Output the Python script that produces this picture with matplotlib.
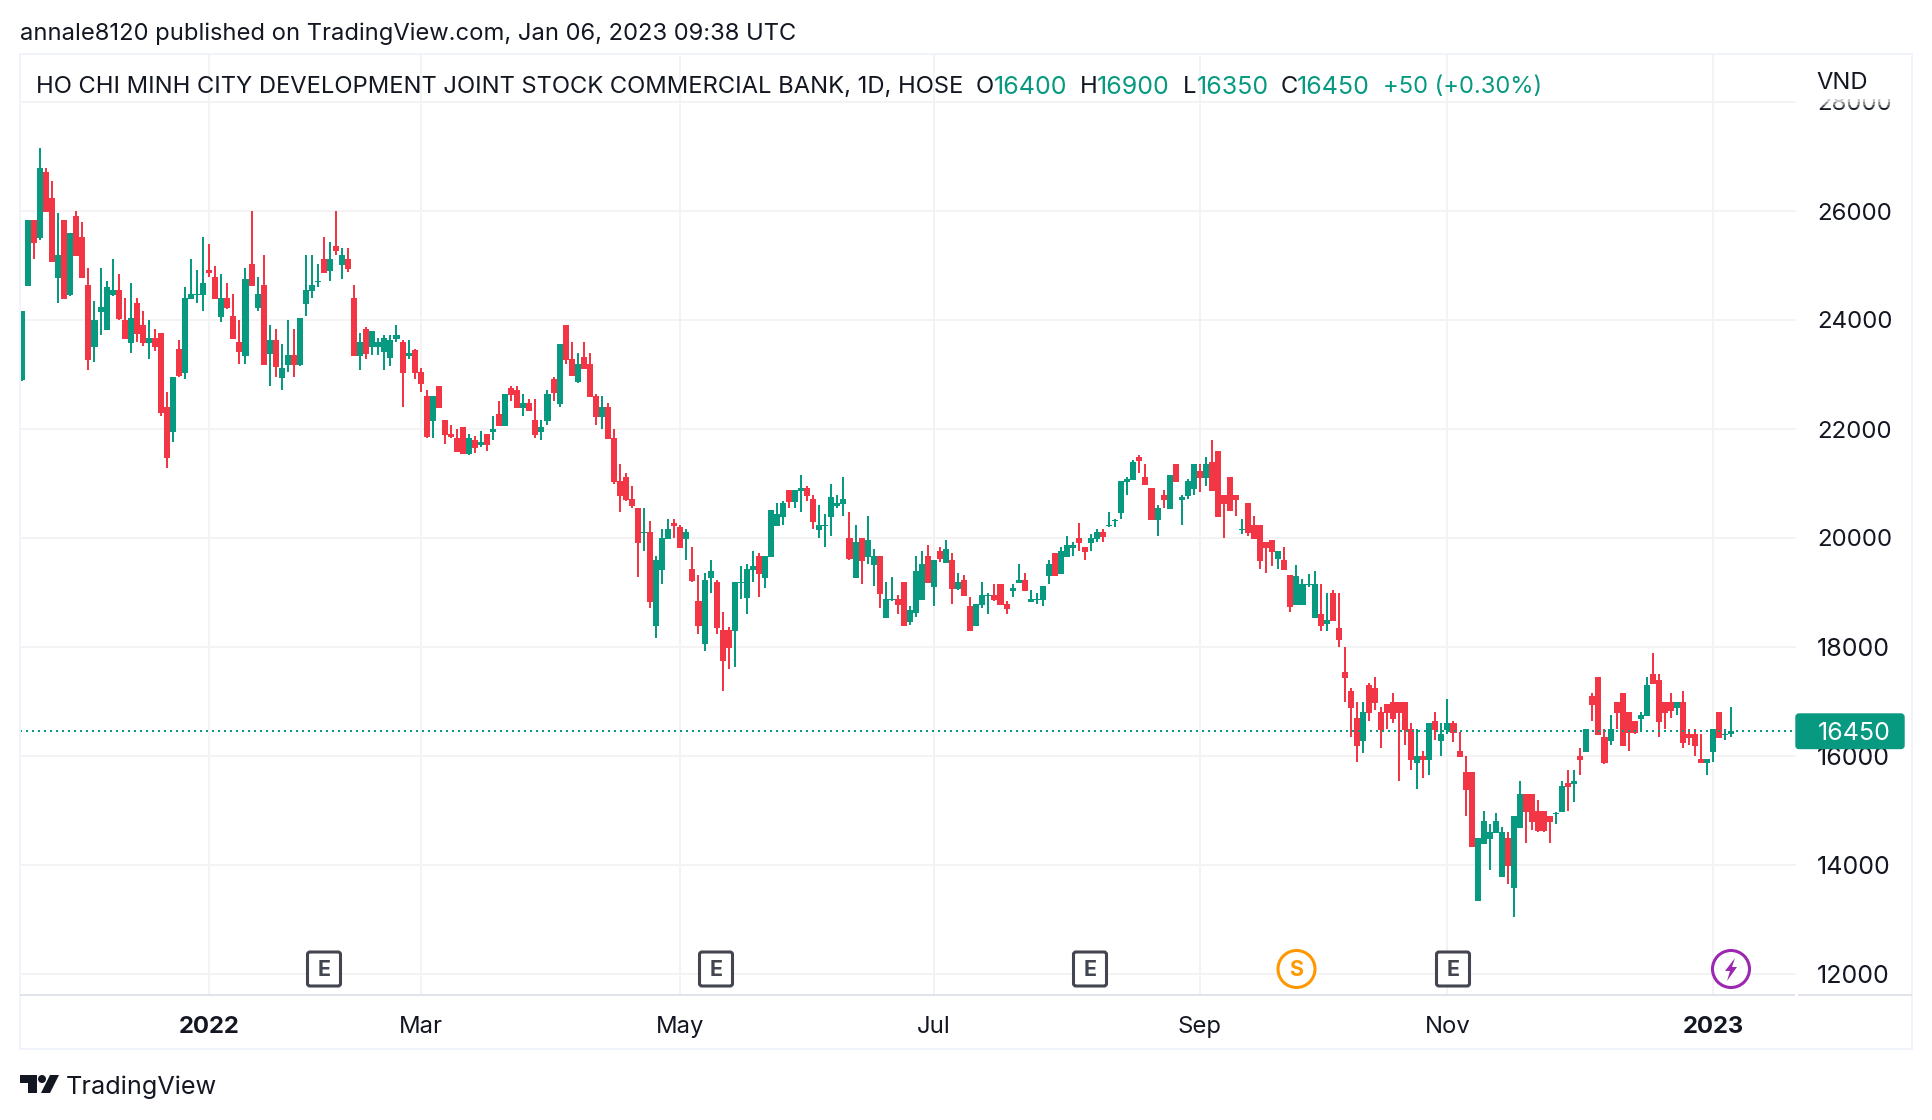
import matplotlib
matplotlib.use("Agg")
import matplotlib.pyplot as plt
from matplotlib.patches import Rectangle, FancyBboxPatch, Circle, Polygon

W, H = 1932, 1120
FONT = ["Inter", "Liberation Sans", "DejaVu Sans"]
plt.rcParams["font.family"] = FONT

GREEN = "#089981"
RED = "#F23645"
TEXT = "#131722"
GRID = "#F3F3F3"
BORDER = "#F0F3FA"
AXLINE = "#E0E3EB"

opens = [
 22900,24630,25840,25510,26720,26240,24770,25840,24460,25910,
 25520,24640,23510,24150,23820,24460,24550,24000,23580,24310,
 23910,23580,23670,23760,22400,21950,23470,23030,24390,24460,
 24460,24920,24790,24060,24400,24070,23600,23340,25030,24220,
 24640,23380,23630,22940,23170,23360,23170,24290,24530,24700,
 25120,24900,25360,25010,25120,24400,23340,23840,23510,23510,
 23410,23300,23650,23600,23340,23450,23050,22610,22150,22790,
 22170,21910,21840,22040,21540,21800,21710,21910,21950,22280,
 22060,22750,22720,22390,22480,22170,21950,22150,22920,22460,
 23910,23280,22860,23320,23190,22610,22220,22400,21840,21050,
 21120,20720,20550,20090,20110,18390,19410,19980,20280,20200,
 19980,19430,18840,18060,19270,19190,18310,18310,18290,19180,
 18900,19410,19670,19270,19650,20220,20390,20880,20660,20860,
 20920,20720,20150,20220,20390,20590,20620,20000,19270,20000,
 19650,19510,19670,18530,18860,18880,19190,18460,18620,18860,
 19670,19100,19760,19540,19600,19060,19230,18750,18390,18770,
 18940,18950,19160,18790,19030,19170,19230,18830,18860,18860,
 19300,19730,19340,19650,19820,20000,19840,19910,19980,20110,
 20220,20310,20460,21030,21060,21490,21120,20920,20330,20790,
 20530,21360,20700,20770,20900,21230,21100,21390,21600,20790,
 21120,20790,20150,20640,20240,20240,19930,19960,19620,19600,
 19320,18770,18770,19140,18530,18610,18420,18990,18350,17540,
 17190,16700,16280,17300,17250,16810,16950,16990,16990,16990,
 16500,15870,16000,15930,16640,16280,16480,16610,16090,15710,
 15710,13340,14390,14480,14590,13780,14500,13580,14680,15300,
 15300,14990,14990,14900,14940,14970,15510,15490,16000,16070,
 17100,17450,16350,16280,16990,17160,16810,16640,16680,16730,
 17510,17400,16990,16990,16880,16990,16400,16400,15950,15870,
 16070,16810,16390,16400,
]
closes = [
 24170,25840,25410,26790,25990,25060,25190,24390,25600,25170,
 24770,23270,24000,24240,24610,24550,24020,23650,24040,23740,
 23580,23670,23510,22290,21470,22950,22970,24400,24480,24480,
 24680,24860,24390,24400,24220,23650,23410,24750,24620,24480,
 23170,23630,23140,23120,23360,23170,24040,24550,24640,24720,
 24860,25120,25270,25190,24940,23340,23600,23380,23800,23600,
 23670,23630,23730,23030,23400,23030,22830,21850,22610,22390,
 21890,21850,21580,21540,21840,21650,21760,21710,22000,22060,
 22640,22620,22390,22480,22330,21890,22040,22640,22660,23560,
 23270,22970,23190,23100,22590,22220,22400,21820,21030,20770,
 20700,20590,19910,20110,18830,19600,20000,20170,20220,19820,
 20110,19210,18390,19230,19400,18350,17740,17980,19190,19190,
 19430,19490,19340,19670,20510,20440,20640,20660,20880,20920,
 20770,20290,20240,20240,20750,20640,20720,19620,19930,19580,
 19960,19670,18970,18880,18880,18770,18390,18680,19400,19520,
 19170,19600,19620,19800,19060,19190,18940,18290,18790,18950,
 18950,18860,18770,18700,19080,19230,19030,18880,18880,19120,
 19520,19300,19760,19870,19870,19910,19740,20000,20110,20020,
 20230,20330,21050,21080,21390,21410,20970,20330,20550,20700,
 21160,21030,20750,21050,21360,21100,21360,20860,20390,20620,
 20500,20700,20170,20090,19980,19580,19820,19740,19760,19410,
 18730,19300,19160,19160,19160,18390,18500,18480,18130,17430,
 16880,16180,16810,16790,16970,16480,16790,16680,16790,16480,
 15930,16000,15930,16610,16480,16400,16610,16420,15980,15380,
 14330,14500,14810,14610,14810,14610,13980,14900,15300,14970,
 14790,14620,14620,14790,14950,15450,15430,15540,15930,16500,
 16940,16390,15870,16500,16790,16180,16420,16420,16750,17300,
 17320,16620,16790,16830,16990,16240,16330,16180,15870,15950,
 16500,16330,16400,16450,
]
highs = [
 24170,25840,25840,27160,26790,26550,25960,25840,25600,26000,
 25800,24950,24350,24950,24720,25120,24840,24400,24680,24400,
 24170,24000,23840,23760,22680,22950,23630,24610,25120,24920,
 25520,25400,24990,24840,24680,24480,24000,24950,26000,24790,
 25190,23910,23840,23560,24000,23840,24040,25190,25190,25030,
 25520,25430,26000,25320,25320,24640,23760,23870,23800,23670,
 23730,23730,23910,23630,23630,23470,23120,22720,22610,22790,
 22170,22070,22000,22040,21910,21870,21960,21910,22240,22510,
 22640,22790,22790,22640,22550,22550,22170,22720,22950,23560,
 23910,23600,23400,23600,23400,22640,22610,22480,22000,21360,
 21190,20950,20550,20550,20310,19670,20170,20350,20350,20240,
 20170,19840,19320,19360,19600,19230,18640,18370,19190,19490,
 19520,19760,19730,19670,20510,20640,20680,20880,20880,21160,
 20950,20790,20610,20440,20990,20790,21120,20480,20240,20000,
 20400,19800,19670,19190,19280,18950,19190,18750,19670,19760,
 19870,19600,19840,19960,19730,19360,19320,18920,18790,19190,
 18990,19160,19160,18840,19160,19520,19360,19050,18990,19120,
 19600,19730,19840,20040,19930,20280,19840,20070,20170,20170,
 20480,20350,21050,21120,21430,21520,21360,20920,20610,20880,
 21160,21360,20790,21080,21360,21360,21490,21800,21600,20790,
 21120,20790,20350,20640,20400,20240,19930,19960,19760,19840,
 19320,19510,19250,19340,19400,19160,18990,19050,18990,18000,
 17250,16990,16990,17340,17450,16900,16950,17160,16990,16990,
 16610,16500,16090,16610,16810,16610,17050,16640,16440,16000,
 15710,14500,14990,14750,14950,14700,14610,14900,15540,15300,
 15300,15190,14990,14900,14970,15540,15740,15740,16150,16500,
 17160,17450,16500,16750,16990,17160,16810,16640,16810,17450,
 17890,17510,16990,17160,16990,17190,16500,16500,16400,15950,
 16500,16810,16500,16900,
]
lows = [
 22880,24630,25120,25470,25990,25060,24310,24390,24440,25170,
 24770,23080,23230,23730,23820,24440,24000,23650,23400,23600,
 23520,23280,23430,22240,21290,21760,22950,22920,24390,24310,
 24170,24790,24390,23960,24200,23650,23190,23190,24620,24170,
 23170,22790,22950,22720,23050,22950,23160,24070,24400,24610,
 24860,24720,25190,24750,24880,23340,23080,23280,23360,23360,
 23080,23160,23600,22400,23280,22920,22680,21840,21840,22390,
 21730,21840,21580,21540,21520,21560,21670,21600,21800,22060,
 22060,22510,22390,22240,22330,21840,21800,22070,22510,22400,
 23190,22970,22840,23100,22590,22070,22000,21820,20990,20480,
 20680,20550,19290,19760,18720,18170,19160,19980,20000,19820,
 19600,19190,18240,17930,18990,18240,17190,17600,17630,18880,
 18610,19190,18920,19080,19650,20220,20240,20550,20550,20480,
 20680,20170,20000,19840,20040,20550,20400,19600,19270,19160,
 19520,19120,18720,18530,18840,18610,18390,18400,18550,18860,
 19170,18750,19560,19540,18790,19050,18940,18290,18390,18720,
 18610,18840,18770,18610,18920,19170,19030,18830,18790,18750,
 19160,19300,19340,19650,19670,19760,19600,19760,19930,19930,
 20200,20200,20350,20790,21060,21190,20970,20330,20040,20550,
 20530,21030,20240,20720,20790,20840,20950,20860,20390,20000,
 20500,20400,20070,20040,19980,19430,19360,19490,19430,19410,
 18640,18770,18770,19100,18530,18290,18290,18480,18000,16990,
 16350,15890,16060,16640,16840,16150,16500,16610,15540,16200,
 15740,15400,15600,15650,16290,16000,16400,16260,15980,14900,
 14330,13340,14390,13910,14590,13780,13650,13050,14680,14400,
 14640,14610,14610,14400,14750,14970,14990,15160,15650,16070,
 16640,16390,15850,16200,16500,16180,16090,16400,16440,16730,
 17320,16350,16500,16700,16750,16150,16200,16000,15870,15650,
 15890,16330,16290,16350,
]
month_index = [31, 66, 109, 151, 195, 236, 280]
month_labels = ["2022", "Mar", "May", "Jul", "Sep", "Nov", "2023"]
price_ticks = [12000, 14000, 16000, 18000, 20000, 22000, 24000, 26000, 28000]

fig = plt.figure(figsize=(W / 100, H / 100), dpi=100, facecolor="white")

# ---- price pane -------------------------------------------------------
L, R, T, B = 19.5, 1796.0, 54.0, 995.0
ax = fig.add_axes([L / W, 1 - B / H, (R - L) / W, (B - T) / H])
PITCH = 6.04
X0 = 22.0
ax.set_xlim((L - X0) / PITCH, (R - X0) / PITCH)
PX_PER_VND = 0.0545
ax.set_ylim(26000 - (B - 211) / PX_PER_VND, 26000 + (211 - T) / PX_PER_VND)
for s in ax.spines.values():
    s.set_visible(False)
ax.set_axisbelow(True)
ax.set_xticks(month_index)
ax.set_xticklabels(month_labels, fontsize=17.2, color=TEXT)
for lab in ax.get_xticklabels():
    if lab.get_text().isdigit():
        lab.set_fontweight("bold")
ax.tick_params(axis="x", length=0, pad=15)
ax.yaxis.tick_right()
ax.set_yticks(price_ticks)
ax.set_yticklabels([str(p) for p in price_ticks], fontsize=17.3, color=TEXT)
for lab in ax.get_yticklabels():
    if lab.get_text().startswith("1"):
        lab.set_fontsize(18.0)
ax.tick_params(axis="y", length=0, pad=15)
ax.grid(True, color=GRID, linewidth=1.44)

idx = list(range(len(opens)))
colors = [GREEN if c >= o else RED for o, c in zip(opens, closes)]
ax.vlines(idx, lows, highs, colors=colors, linewidth=1.44, antialiased=False, zorder=2)
ax.bar(idx, [abs(c - o) for o, c in zip(opens, closes)],
       bottom=[min(o, c) for o, c in zip(opens, closes)],
       width=1.0, color=colors, linewidth=0, antialiased=False, zorder=3)
ax.axhline(closes[-1], color=GREEN, linewidth=1.44, linestyle=(0, (1, 2)), zorder=4)

# ---- overlay in pixel coordinates -------------------------------------
ov = fig.add_axes([0, 0, 1, 1], facecolor="none")
ov.set_xlim(0, W)
ov.set_ylim(H, 0)
ov.axis("off")

# frame and axis rule
ov.add_patch(Rectangle((19.5, 54), 1892, 995, fill=False, edgecolor=BORDER, linewidth=1.44))
ov.plot([19.5, 1795], [995, 995], color=AXLINE, lw=1.44, solid_capstyle="butt")
ov.plot([1798, 1912], [995, 995], color=AXLINE, lw=1.44, solid_capstyle="butt")

# fade of the clipped top price label
for y0, y1, a in [(88, 99, 1.0), (99, 102, 0.75), (102, 105, 0.5), (105, 108, 0.25)]:
    ov.add_patch(Rectangle((1805, y0), 100, y1 - y0, facecolor="white", edgecolor="none", alpha=a))

FS = 17.1
ov.text(20, 34, "annale8120 published on TradingView.com, Jan 06, 2023 09:38 UTC",
        fontsize=FS, color=TEXT, va="center", ha="left")
ov.text(36, 87, "HO CHI MINH CITY DEVELOPMENT JOINT STOCK COMMERCIAL BANK, 1D, HOSE",
        fontsize=FS, color=TEXT, va="center", ha="left")
for x, s, c, fs in [(976, "O", TEXT, FS), (994, "16400", GREEN, 18), (1080, "H", TEXT, FS),
                    (1097, "16900", GREEN, 18), (1183, "L", TEXT, FS), (1197, "16350", GREEN, 18),
                    (1281, "C", TEXT, FS), (1297, "16450", GREEN, 18),
                    (1383, "+50 (+0.30%)", GREEN, FS)]:
    ov.text(x, 87, s, fontsize=fs, color=c, va="center", ha="left")
ov.text(1816, 83, "VND", fontsize=FS, color=TEXT, va="center", ha="left")

# last price tag
ov.add_patch(FancyBboxPatch((1796, 714), 108, 34.5, boxstyle="round,pad=0,rounding_size=3",
                            facecolor=GREEN, edgecolor=GREEN, linewidth=1))
ov.text(1854, 733.5, "16450", fontsize=18, color="white", va="center", ha="center")

# event badges
for cx in [324, 716, 1090, 1453]:
    ov.add_patch(FancyBboxPatch((cx - 16.5, 952), 33, 34, boxstyle="round,pad=0,rounding_size=2.5",
                                facecolor="white", edgecolor="#434651", linewidth=2.2))
    ov.text(cx, 969.5, "E", fontsize=15.5, fontweight="bold", color="#434651", va="center", ha="center")
ov.add_patch(Circle((1296.5, 969), 18.5, facecolor="white", edgecolor="#FF9800", linewidth=2.2))
ov.text(1296.5, 969.5, "S", fontsize=15.5, fontweight="bold", color="#FF9800", va="center", ha="center")
ov.add_patch(Circle((1731, 969), 18.5, facecolor="white", edgecolor="#9C27B0", linewidth=2.2))
ov.add_patch(Polygon([(1735, 958), (1725, 971), (1730, 971), (1727, 981), (1737, 967), (1732, 967)],
                     closed=True, facecolor="#9C27B0", edgecolor="none"))

# logo
ov.add_patch(Polygon([(20, 1075), (37, 1075), (37, 1093), (28, 1093), (28, 1083), (20, 1083)],
                     closed=True, facecolor=TEXT, edgecolor="none"))
ov.add_patch(Circle((42, 1079), 4, facecolor=TEXT, edgecolor="none"))
ov.add_patch(Polygon([(50, 1075), (59, 1075), (50, 1093), (41, 1093)],
                     closed=True, facecolor=TEXT, edgecolor="none"))
ov.text(66, 1087, "TradingView", fontsize=18.2, color=TEXT, va="center", ha="left")

fig.savefig("out.png", dpi=100, facecolor="white")
